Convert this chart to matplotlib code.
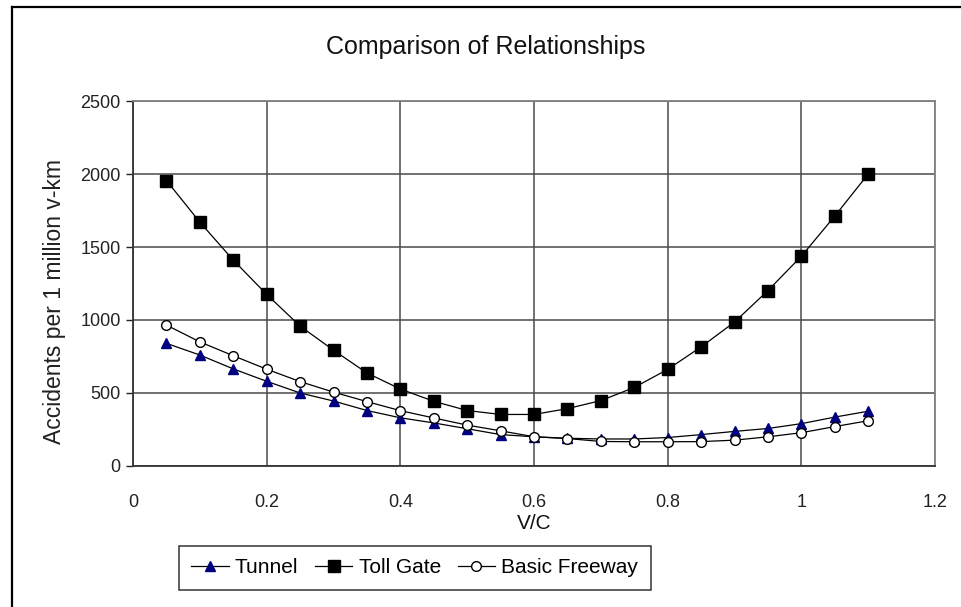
import matplotlib
matplotlib.use("Agg")
import matplotlib.pyplot as plt
from matplotlib.lines import Line2D

plt.rcParams['font.family'] = ['Liberation Sans', 'DejaVu Sans']

# v/c ratio
vc = [0.05, 0.10, 0.15, 0.20, 0.25, 0.30, 0.35, 0.40, 0.45, 0.50, 0.55,
      0.60, 0.65, 0.70, 0.75, 0.80, 0.85, 0.90, 0.95, 1.00, 1.05, 1.10]

tunnel = [840, 760, 665, 580, 500, 445, 380, 330, 295, 255, 215,
          200, 190, 185, 185, 195, 215, 237, 257, 290, 335, 375]
toll_gate = [1955, 1670, 1410, 1175, 958, 793, 637, 527, 443, 380, 353,
             353, 393, 448, 538, 662, 816, 986, 1202, 1437, 1712, 2000]
basic_freeway = [965, 850, 755, 663, 578, 506, 441, 379, 329, 280, 241,
                 200, 188, 168, 166, 166, 167, 177, 200, 228, 270, 310]

x_ticks = [0, 0.2, 0.4, 0.6, 0.8, 1, 1.2]
x_labels = ['0', '0.2', '0.4', '0.6', '0.8', '1', '1.2']
y_ticks = [0, 500, 1000, 1500, 2000, 2500]

fig = plt.figure(figsize=(9.62, 6.07), dpi=100)
ax = fig.add_axes([0.1383, 0.2323, 0.8337, 0.6013])

# outer frame of the chart (only left and top survive in the scan)
fig.add_artist(Line2D([0.0125, 0.0125], [0, 0.989], color='black', lw=1.6,
                      transform=fig.transFigure))
fig.add_artist(Line2D([0.0125, 1.0], [0.989, 0.989], color='black', lw=1.6,
                      transform=fig.transFigure))

ax.plot(vc, tunnel, color='black', lw=0.9, marker='^', ms=7,
        mfc='#000080', mec='#000080', label='Tunnel', zorder=3)
ax.plot(vc, toll_gate, color='black', lw=0.9, marker='s', ms=8.5,
        mfc='black', mec='black', label='Toll Gate', zorder=3)
ax.plot(vc, basic_freeway, color='black', lw=0.9, marker='o', ms=7,
        mfc='white', mec='black', mew=1.0, label='Basic Freeway', zorder=4)

ax.set_xlim(0, 1.2)
ax.set_ylim(0, 2500)
ax.set_xticks(x_ticks)
ax.set_xticklabels(x_labels)
ax.set_yticks(y_ticks)
ax.grid(True, color='#4a4a4a', lw=1.1)
ax.set_axisbelow(True)
for s in ax.spines.values():
    s.set_color('#808080')
    s.set_linewidth(1.3)
ax.spines['left'].set_color('#333333')
ax.spines['bottom'].set_color('#333333')

ax.tick_params(axis='y', length=5, width=1, pad=4, labelsize=13, colors='#222222')
ax.tick_params(axis='x', length=0, pad=20, labelsize=13, colors='#222222')

fig.text(0.505, 0.922, 'Comparison of Relationships', fontsize=18,
         ha='center', va='center', color='#111111')
ax.set_xlabel('V/C', fontsize=15, labelpad=2, color='#111111')
ax.set_ylabel('Accidents per 1 million v-km', fontsize=16.5, color='#222222')
ax.yaxis.set_label_coords(-0.084, 0.45)

leg = fig.legend(loc='center', bbox_to_anchor=(0.431, 0.065), ncol=3,
                 fontsize=15, frameon=True, fancybox=False, edgecolor='black',
                 handlelength=1.8, handletextpad=0.3, columnspacing=0.8,
                 borderpad=0.6)
leg.get_frame().set_linewidth(1.1)

fig.savefig('out.png', dpi=100)
